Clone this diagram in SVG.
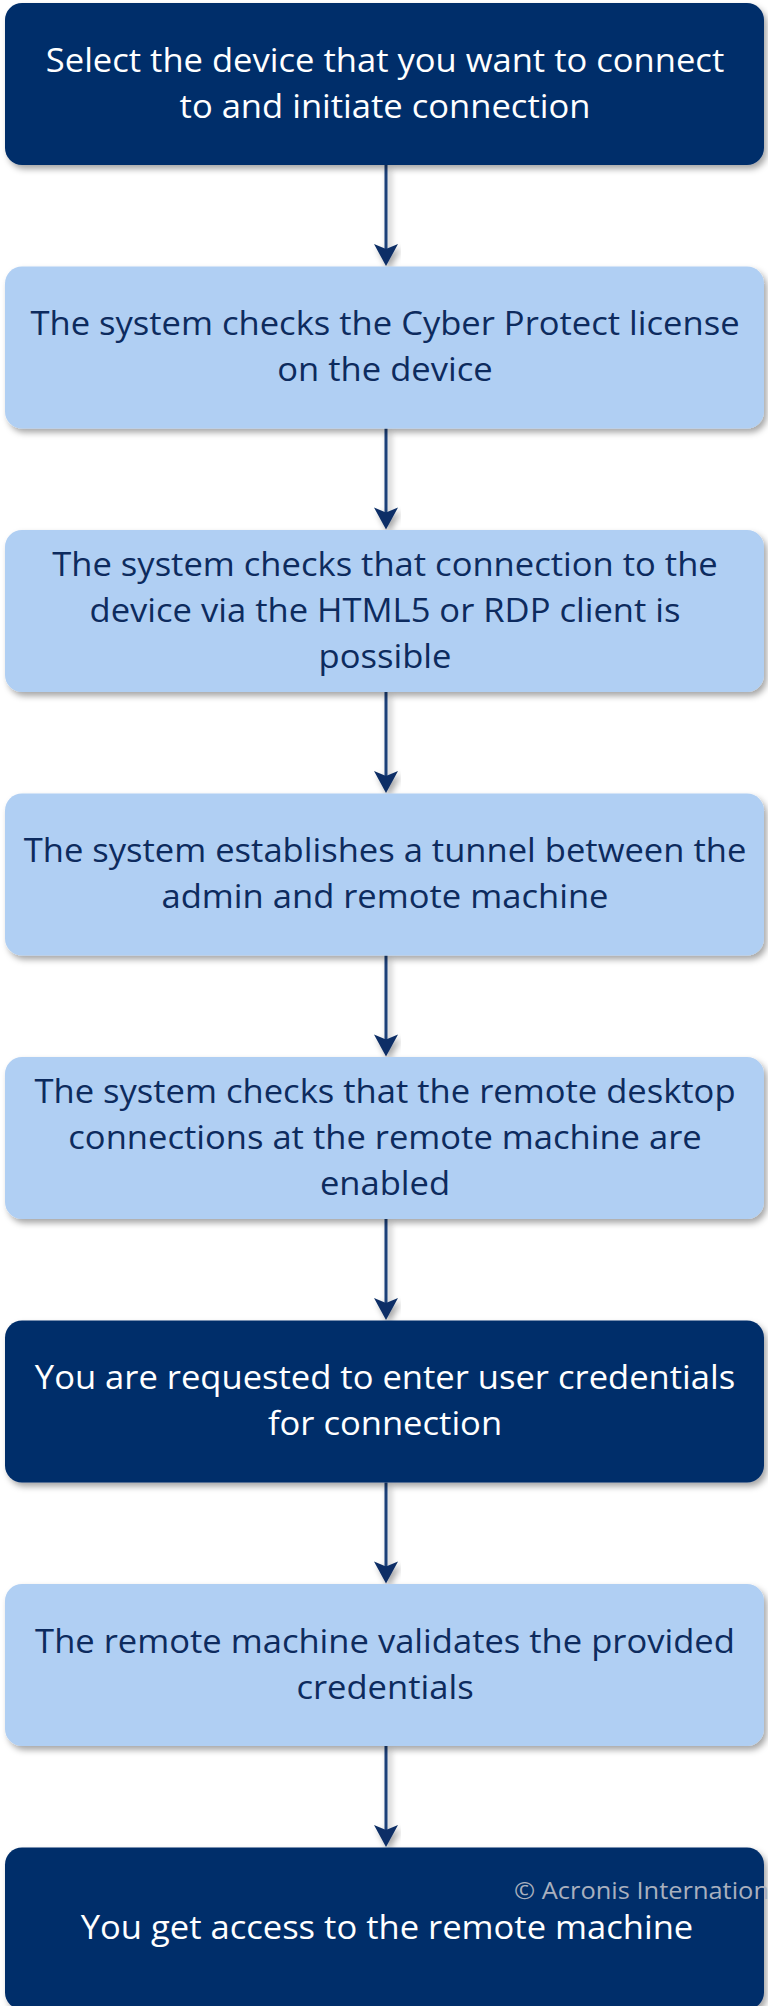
<svg xmlns="http://www.w3.org/2000/svg" width="768" height="2006" viewBox="0 0 768 2006">
<style>
.dark{fill:#002E6A}
.light{fill:#B0CFF3}
.tl{font-family:"Open Sans","Liberation Sans",sans-serif;font-size:32px;text-anchor:middle;fill:#ffffff}
.td{font-family:"Open Sans","Liberation Sans",sans-serif;font-size:32px;text-anchor:middle;fill:#0D2B5E}
.conn{stroke:#1B3F78;stroke-width:3;fill:none}
.wm{font-family:"Open Sans","Liberation Sans",sans-serif;font-size:24px;fill:#A9B0BE}
</style>
<defs>
<filter id="sh" x="-5%" y="-10%" width="115%" height="130%">
<feDropShadow dx="3" dy="4" stdDeviation="3" flood-color="#000" flood-opacity="0.35"/>
</filter>
</defs>
<rect width="768" height="2006" fill="#ffffff"/>
<g id="connectors" filter="url(#sh)">
<path class="conn" d="M386,165 V250"/>
<path class="conn" d="M386,428.5 V513"/>
<path class="conn" d="M386,692 V777"/>
<path class="conn" d="M386,955.5 V1040"/>
<path class="conn" d="M386,1219 V1304"/>
<path class="conn" d="M386,1482.5 V1567"/>
<path class="conn" d="M386,1746 V1831"/>
<g fill="#0E2F66">
<path d="M374,244 L386,249 L398,244 L386,266 Z"/>
<path d="M374,507.5 L386,512.5 L398,507.5 L386,529.5 Z"/>
<path d="M374,771 L386,776 L398,771 L386,793 Z"/>
<path d="M374,1034.5 L386,1039.5 L398,1034.5 L386,1056.5 Z"/>
<path d="M374,1298 L386,1303 L398,1298 L386,1320 Z"/>
<path d="M374,1561.5 L386,1566.5 L398,1561.5 L386,1583.5 Z"/>
<path d="M374,1825 L386,1830 L398,1825 L386,1847 Z"/>
</g>
</g>
<g id="n1">
<rect class="dark" x="5" y="3" width="759" height="162" rx="17" filter="url(#sh)"/>
<g transform="translate(385,0) scale(1.08,1)">
<text class="tl" x="0" y="72">Select the device that you want to connect</text>
<text class="tl" x="0" y="118">to and initiate connection</text>
</g>
</g>
<g id="n2">
<rect class="light" x="5" y="266.5" width="759" height="162" rx="17" filter="url(#sh)"/>
<g transform="translate(385,0) scale(1.08,1)">
<text class="td" x="0" y="335.5">The system checks the Cyber Protect license</text>
<text class="td" x="0" y="381.5">on the device</text>
</g>
</g>
<g id="n3">
<rect class="light" x="5" y="530" width="759" height="162" rx="17" filter="url(#sh)"/>
<g transform="translate(385,0) scale(1.08,1)">
<text class="td" x="0" y="576">The system checks that connection to the</text>
<text class="td" x="0" y="622">device via the HTML5 or RDP client is</text>
<text class="td" x="0" y="668">possible</text>
</g>
</g>
<g id="n4">
<rect class="light" x="5" y="793.5" width="759" height="162" rx="17" filter="url(#sh)"/>
<g transform="translate(385,0) scale(1.08,1)">
<text class="td" x="0" y="862.5">The system establishes a tunnel between the</text>
<text class="td" x="0" y="908.5">admin and remote machine</text>
</g>
</g>
<g id="n5">
<rect class="light" x="5" y="1057" width="759" height="162" rx="17" filter="url(#sh)"/>
<g transform="translate(385,0) scale(1.08,1)">
<text class="td" x="0" y="1103">The system checks that the remote desktop</text>
<text class="td" x="0" y="1149">connections at the remote machine are</text>
<text class="td" x="0" y="1195">enabled</text>
</g>
</g>
<g id="n6">
<rect class="dark" x="5" y="1320.5" width="759" height="162" rx="17" filter="url(#sh)"/>
<g transform="translate(385,0) scale(1.08,1)">
<text class="tl" x="0" y="1389.5">You are requested to enter user credentials</text>
<text class="tl" x="0" y="1435.5">for connection</text>
</g>
</g>
<g id="n7">
<rect class="light" x="5" y="1584" width="759" height="162" rx="17" filter="url(#sh)"/>
<g transform="translate(385,0) scale(1.08,1)">
<text class="td" x="0" y="1653">The remote machine validates the provided</text>
<text class="td" x="0" y="1699">credentials</text>
</g>
</g>
<g id="n8">
<rect class="dark" x="5" y="1847.5" width="759" height="162" rx="17" filter="url(#sh)"/>
<g transform="translate(387,0) scale(1.08,1)">
<text class="tl" x="0" y="1939">You get access to the remote machine</text>
</g>
</g>
<g transform="translate(514,0) scale(1.06,1)">
<text class="wm" x="0" y="1899">© Acronis Internation</text>
</g>
</svg>
